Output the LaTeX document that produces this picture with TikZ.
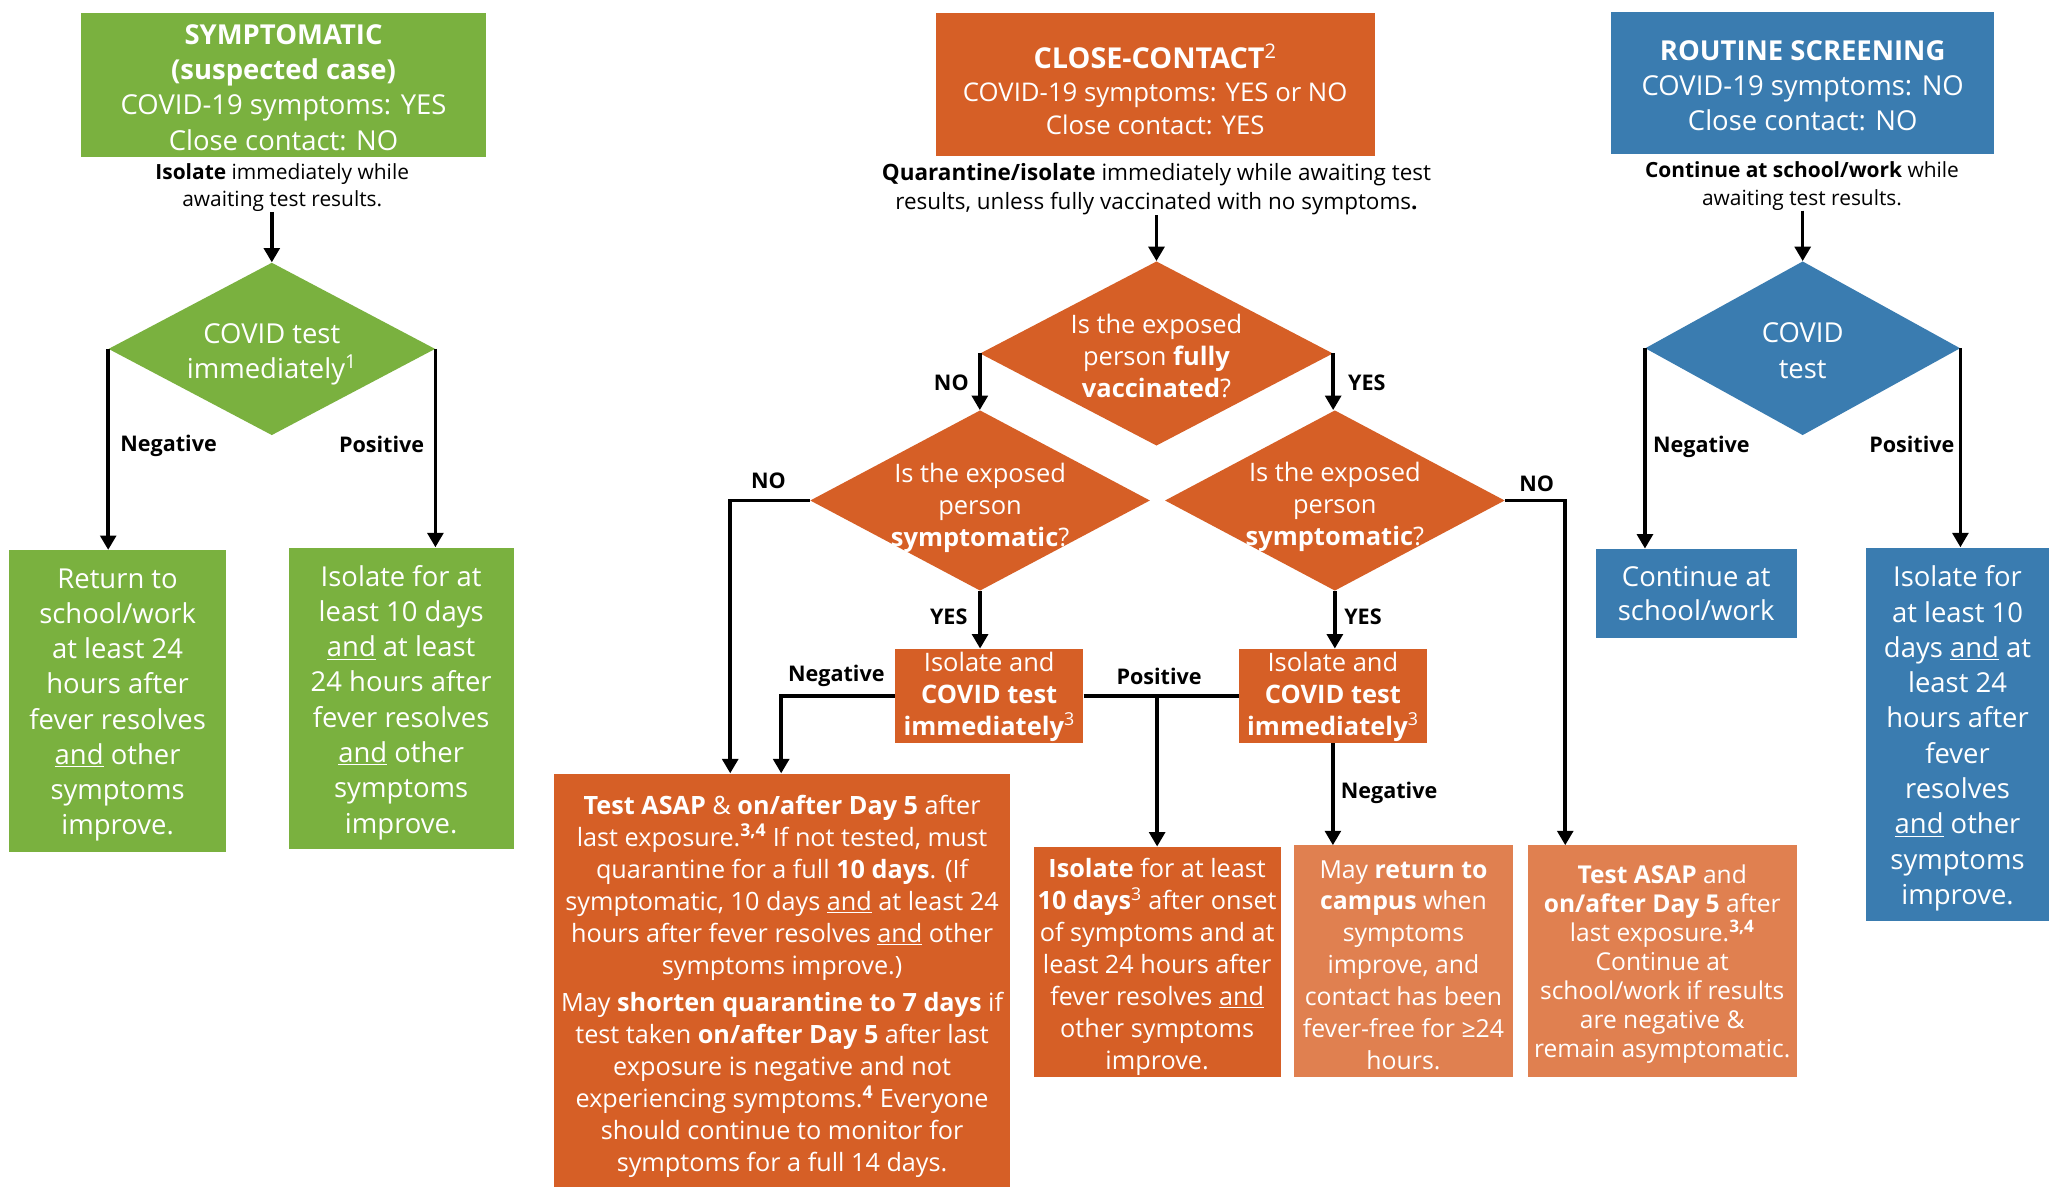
\documentclass[tikz,border=0pt]{standalone}
\usepackage{fontspec}
\setmainfont{Open Sans}
\usetikzlibrary{shapes.geometric,arrows.meta}
\definecolor{cgreen}{HTML}{7AB13F}
\definecolor{corange}{HTML}{D65F26}
\definecolor{clight}{HTML}{E08050}
\definecolor{cblue}{HTML}{3A7CB0}
\newcommand{\fs}[2]{\fontsize{#1pt}{#2pt}\selectfont}
\newcommand{\und}[1]{\underline{#1}}
\tikzset{
  box/.style={rectangle, inner sep=0pt},
  gbox/.style={box, fill=cgreen},
  obox/.style={box, fill=corange},
  lbox/.style={box, fill=clight},
  bbox/.style={box, fill=cblue},
  dia/.style={diamond, inner sep=0pt},
  txt/.style={align=center, text=white, inner sep=0pt},
  arr/.style={line width=2.7pt, -{Triangle[length=11pt,width=12pt]}},
  lnk/.style={line width=2.7pt},
  lbl/.style={font=\fs{16.5}{20}\bfseries, inner sep=0pt},
  note/.style={align=center, font=\fs{16}{21}, inner sep=0pt},
}
\begin{document}
\begin{tikzpicture}[x=1pt,y=-1pt]
\useasboundingbox[fill=white] (0,0) rectangle (1568,908);

% ---------------- GREEN ----------------
\node[gbox, minimum width=310pt, minimum height=110pt] (g0) at (217,65) {};
\node[txt, font=\fs{21}{27}] (g0t) at ([yshift=-2pt]g0.center)
  {\textbf{SYMPTOMATIC}\\\textbf{(suspected case)}\\COVID-19 symptoms: YES\\Close contact: NO};
\node[note] (gn) at (216,143.5) {\textbf{Isolate} immediately while\\awaiting test results.};
\node[dia, fill=cgreen, minimum width=250pt, minimum height=132pt] (gd) at (208,267) {};
\node[txt, font=\fs{21}{27}] (gdt) at ([yshift=-4pt]gd.center) {COVID test\\immediately\textsuperscript{1}};
\node[gbox, minimum width=166pt, minimum height=231pt] (g1) at (90,536.5) {};
\node[txt, font=\fs{21}{27}] (g1t) at ([yshift=-3pt]g1.center)
  {Return to\\school/work\\at least 24\\hours after\\fever resolves\\\und{and} other\\symptoms\\improve.};
\node[gbox, minimum width=172pt, minimum height=231pt] (g2) at (307,534.5) {};
\node[txt, font=\fs{21}{27}] (g2t) at ([yshift=-3pt]g2.center)
  {Isolate for at\\least 10 days\\\und{and} at least\\24 hours after\\fever resolves\\\und{and} other\\symptoms\\improve.};
\draw[arr] (gd.north |- gn.south) -- (gd.north);
\draw[arr] (gd.west) -- (gd.west |- g1.north);
\draw[arr] (gd.east) -- (gd.east |- g2.north);
\node[lbl] (gneg) at (129,341) {Negative};
\node[lbl] (gpos) at (292,340) {Positive};

% ---------------- ORANGE ----------------
\node[obox, minimum width=336pt, minimum height=109pt] (o0) at (884,64.5) {};
\node[txt, font=\fs{19.7}{25.5}] (o0t) at ([yshift=-4pt]o0.center)
  {{\fontsize{22pt}{26pt}\selectfont\textbf{CLOSE-CONTACT}\textsuperscript{2}}\\COVID-19 symptoms: YES or NO\\Close contact: YES};
\node[note, font=\fs{17.2}{22}] (on) at (885,145) {\textbf{Quarantine/isolate} immediately while awaiting test\\results, unless fully vaccinated with no symptoms\textbf{.}};
\node[dia, fill=corange, minimum width=270pt, minimum height=141pt] (od1) at (885,270.5) {};
\node[txt, font=\fs{19.5}{24.5}] (od1t) at ([yshift=-2pt]od1.center) {Is the exposed\\person \textbf{fully}\\\textbf{vaccinated}?};
\node[dia, fill=corange, minimum width=260pt, minimum height=138pt] (od2) at (750,383) {};
\node[txt, font=\fs{19.5}{24.5}] (od2t) at ([yshift=-6pt]od2.center) {Is the exposed\\person\\\textbf{symptomatic}?};
\node[dia, fill=corange, minimum width=260pt, minimum height=138pt] (od3) at (1021.5,383) {};
\node[txt, font=\fs{19.5}{24.5}] (od3t) at ([yshift=-5pt]od3.center) {Is the exposed\\person\\\textbf{symptomatic}?};
\node[obox, minimum width=144pt, minimum height=72pt] (o2a) at (757,532.5) {};
\node[txt, font=\fs{19.5}{24.5}] (o2at) at ([yshift=-1pt]o2a.center)
  {Isolate and\\\textbf{COVID test}\\\textbf{immediately}\textsuperscript{3}};
\node[obox, minimum width=144pt, minimum height=72pt] (o2b) at (1020,532.5) {};
\node[txt, font=\fs{19.5}{24.5}] (o2bt) at ([yshift=-1pt]o2b.center)
  {Isolate and\\\textbf{COVID test}\\\textbf{immediately}\textsuperscript{3}};
\node[obox, minimum width=349pt, minimum height=316pt] (o1) at (598.5,750) {};
\node[txt, font=\fs{19.3}{24.5}] (o1t) at ([yshift=-5pt]o1.center)
  {\textbf{Test ASAP} \& \textbf{on/after Day 5} after\\
   last exposure.\textsuperscript{\textbf{3,4}} If not tested, must\\
   quarantine for a full \textbf{10 days}. (If\\
   symptomatic, 10 days \und{and} at least 24\\
   hours after fever resolves \und{and} other\\
   symptoms improve.)\\[4pt]
   May \textbf{shorten quarantine to 7 days} if\\
   test taken \textbf{on/after Day 5} after last\\
   exposure is negative and not\\
   experiencing symptoms.\textsuperscript{\textbf{4}} Everyone\\
   should continue to monitor for\\
   symptoms for a full 14 days.};
\node[obox, minimum width=189pt, minimum height=176pt] (o3) at (885.5,736) {};
\node[txt, font=\fs{19.3}{24.4}] (o3t) at ([yshift=-4pt]o3.center)
  {\textbf{Isolate} for at least\\\textbf{10 days}\textsuperscript{3} after onset\\of symptoms and at\\least 24 hours after\\fever resolves \und{and}\\other symptoms\\improve.};
\node[lbox, minimum width=168pt, minimum height=177pt] (o4) at (1074,735.5) {};
\node[txt, font=\fs{19}{24.4}] (o4t) at ([yshift=-3pt]o4.center)
  {May \textbf{return to}\\\textbf{campus} when\\symptoms\\improve, and\\contact has been\\fever-free for ≥24\\hours.};
\node[lbox, minimum width=206pt, minimum height=177pt] (o5) at (1272,735.5) {};
\node[txt, font=\fs{18.8}{22.2}] (o5t) at ([yshift=-2pt]o5.center)
  {\textbf{Test ASAP} and\\\textbf{on/after Day 5} after\\last exposure.\textsuperscript{\textbf{3,4}}\\Continue at\\school/work if results\\are negative \&\\remain asymptomatic.};

\draw[arr] (od1.north |- on.south) -- (od1.north);
\draw[arr] (od1.west) -- (od1.west |- od2.north);
\draw[arr] (od1.east) -- (od1.east |- od3.north);
\draw[arr] (od2.west) -| ([xshift=135pt]o1.north west);
\draw[arr] (od2.south) -- (od2.south |- o2a.north);
\draw[arr] (o2a.west) -| ([xshift=174pt]o1.north west);
\draw[lnk] (o2a.east) -- (o2b.west);
\draw[arr] (o3.north |- o2a.east) -- (o3.north);
\draw[arr] (od3.south) -- (od3.south |- o2b.north);
\draw[arr] (o2b.south) -- (o2b.south |- o4.north);
\draw[arr] (od3.east) -| ([xshift=29pt]o5.north west);
\node[lbl] (l1) at (728,293) {NO};
\node[lbl] (l2) at (1046,293) {YES};
\node[lbl] (l3) at (588,368) {NO};
\node[lbl] (l4) at (726,472) {YES};
\node[lbl] (l5) at (1043,472) {YES};
\node[lbl] (l6) at (640,517) {Negative};
\node[lbl] (l7) at (887,518) {Positive};
\node[lbl] (l8) at (1063,607) {Negative};
\node[lbl] (l9) at (1176,370) {NO};

% ---------------- BLUE ----------------
\node[bbox, minimum width=293pt, minimum height=109pt] (b0) at (1379.5,63.5) {};
\node[txt, font=\fs{21}{27}] (b0t) at ([yshift=-2pt]b0.center)
  {\textbf{ROUTINE SCREENING}\\COVID-19 symptoms: NO\\Close contact: NO};
\node[note] (bn) at (1379,142.5) {\textbf{Continue at school/work} while\\awaiting test results.};
\node[dia, fill=cblue, minimum width=241pt, minimum height=133pt] (bd) at (1379.5,266.5) {};
\node[txt, font=\fs{21}{28}] (bdt) at ([yshift=-2pt]bd.center) {COVID\\test};
\node[bbox, minimum width=154pt, minimum height=68pt] (b1) at (1298,454) {};
\node[txt, font=\fs{21}{26}] (b1t) at (b1.center) {Continue at\\school/work};
\node[bbox, minimum width=140pt, minimum height=286pt] (b2) at (1498,562) {};
\node[txt, font=\fs{21}{27}] (b2t) at ([yshift=-3pt]b2.center)
  {Isolate for\\at least 10\\days \und{and} at\\least 24\\hours after\\fever\\resolves\\\und{and} other\\symptoms\\improve.};
\draw[arr] (bd.north |- bn.south) -- (bd.north);
\draw[arr] (bd.west) -- (bd.west |- b1.north);
\draw[arr] (bd.east) -- (bd.east |- b2.north);
\node[lbl] (bneg) at (1302,342) {Negative};
\node[lbl] (bpos) at (1463,340) {Positive};
\end{tikzpicture}
\end{document}
